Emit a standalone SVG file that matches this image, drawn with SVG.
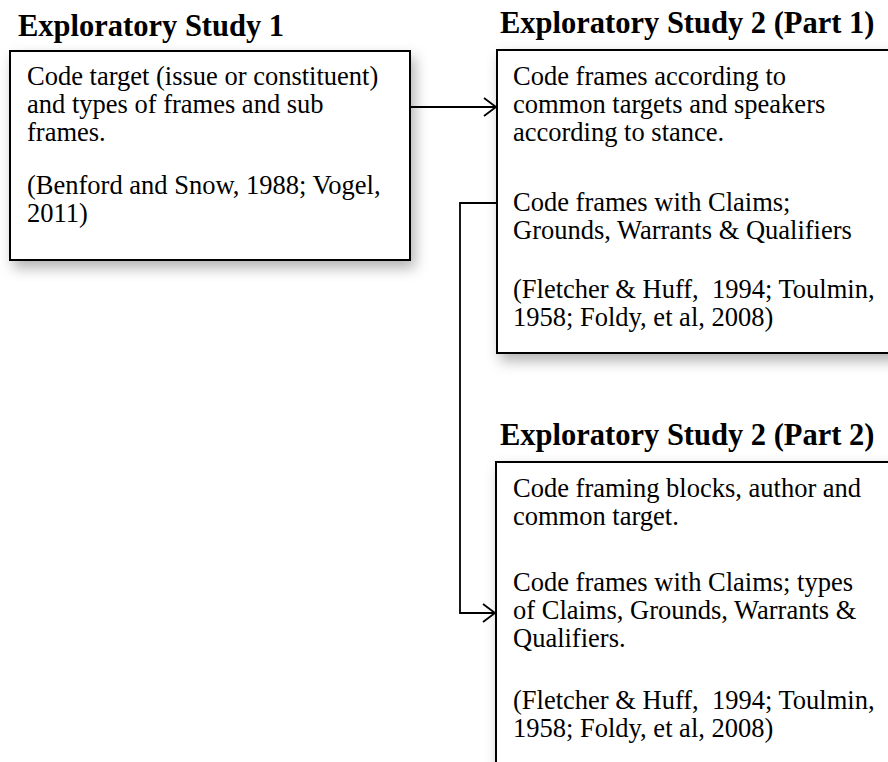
<svg xmlns="http://www.w3.org/2000/svg" width="888" height="762" viewBox="0 0 888 762">
<style>
.title{font-family:"Liberation Serif","Times New Roman",serif;font-weight:bold;font-size:30.5px;fill:#000;}
.body{font-family:"Liberation Serif","Times New Roman",serif;font-size:26.5px;fill:#000;white-space:pre;}
.box{fill:#fff;stroke:#000;stroke-width:2;}
.conn{fill:none;stroke:#000;stroke-width:1.8;}
</style>
<defs>
<filter id="sh" x="-10%" y="-10%" width="130%" height="140%">
<feDropShadow dx="4" dy="7" stdDeviation="7" flood-color="#000" flood-opacity="0.3"/>
</filter>
</defs>
<rect width="888" height="762" fill="#fff"/>
<g id="study1">
<text class="title" x="18" y="36">Exploratory Study 1</text>
<rect class="box" x="10" y="51" width="400" height="209" filter="url(#sh)"/>
<text class="body" x="27" y="85">Code target (issue or constituent)</text>
<text class="body" x="27" y="113">and types of frames and sub</text>
<text class="body" x="27" y="141">frames.</text>
<text class="body" x="27" y="194">(Benford and Snow, 1988; Vogel,</text>
<text class="body" x="27" y="222">2011)</text>
</g>
<g id="study2part1">
<text class="title" x="500" y="33">Exploratory Study 2 (Part 1)</text>
<rect class="box" x="497" y="50" width="410" height="303" filter="url(#sh)"/>
<text class="body" x="513" y="85">Code frames according to</text>
<text class="body" x="513" y="113">common targets and speakers</text>
<text class="body" x="513" y="141">according to stance.</text>
<text class="body" x="513" y="211">Code frames with Claims;</text>
<text class="body" x="513" y="239">Grounds, Warrants &amp; Qualifiers</text>
<text class="body" x="513" y="298">(Fletcher &amp; Huff,  1994; Toulmin,</text>
<text class="body" x="513" y="326">1958; Foldy, et al, 2008)</text>
</g>
<g id="study2part2">
<text class="title" x="500" y="445">Exploratory Study 2 (Part 2)</text>
<rect class="box" x="496" y="462" width="410" height="320" filter="url(#sh)"/>
<text class="body" x="513" y="497">Code framing blocks, author and</text>
<text class="body" x="513" y="525">common target.</text>
<text class="body" x="513" y="591">Code frames with Claims; types</text>
<text class="body" x="513" y="619">of Claims, Grounds, Warrants &amp;</text>
<text class="body" x="513" y="647">Qualifiers.</text>
<text class="body" x="513" y="709">(Fletcher &amp; Huff,  1994; Toulmin,</text>
<text class="body" x="513" y="737">1958; Foldy, et al, 2008)</text>
</g>
<g id="connectors">
<path class="conn" d="M410,107 H496"/>
<path class="conn" d="M484,98 L496,107 L484,116"/>
<path class="conn" d="M497,203 H460 V613 H495"/>
<path class="conn" d="M483,604 L495,613 L483,622"/>
</g>
</svg>
